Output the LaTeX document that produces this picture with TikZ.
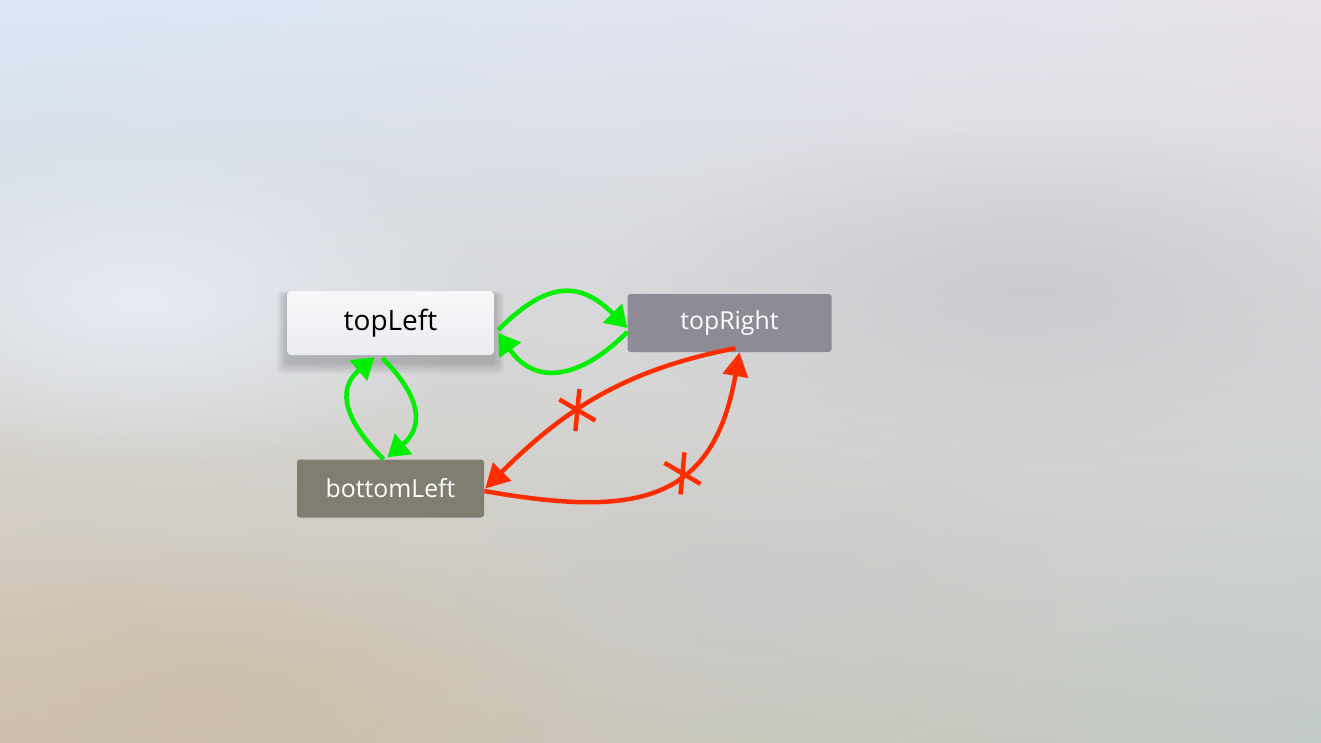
\documentclass[tikz,border=0pt]{standalone}
\usepackage{fontspec}
\setmainfont{Open Sans}
\usetikzlibrary{arrows.meta,decorations.markings,fadings,shadings}
\tikzfading[name=softblob, inner color=transparent!0, outer color=transparent!100]
\definecolor{bgUL}{HTML}{D9E7F7}
\definecolor{bgUR}{HTML}{E8E2E9}
\definecolor{bgLL}{HTML}{D0C2AE}
\definecolor{bgLR}{HTML}{C2CAC6}
\definecolor{blobgray}{HTML}{C8C7CC}
\definecolor{bloblight}{HTML}{E8EDF6}
\definecolor{blobtan}{HTML}{CDBEA8}
\definecolor{greenline}{HTML}{00EE00}
\definecolor{redline}{HTML}{FF2D00}
\definecolor{trfill}{HTML}{8D8B95}
\definecolor{blfill}{HTML}{7F7E71}
\definecolor{tltop}{HTML}{F8F8FA}
\definecolor{tlbot}{HTML}{EBECF0}
\tikzset{
  box/.style={rectangle, inner sep=0pt, minimum height=58pt, rounded corners=3pt},
  focusbox/.style={box, top color=tltop, bottom color=tlbot, minimum width=207pt, minimum height=64pt, rounded corners=4pt, text=black, font=\fontsize{28}{32}\selectfont},
  plainbox/.style={box, text=white, font=\fontsize{24.8}{29}\selectfont},
  glink/.style={draw=greenline, line width=4.5pt, -{Triangle[length=21pt,width=26pt]}, fill=none},
  rlink/.style={draw=redline, line width=4.5pt, -{Triangle[length=24pt,width=25pt]}, fill=none},
  crossmark/.style={postaction={decorate}, decoration={markings, mark=at position #1 with {
      \pgftransformresetnontranslations
      \draw[redline, line width=4.5pt, -] (-2pt,-21pt) -- (2pt,21pt);
      \draw[redline, line width=4.5pt, -] (-18pt,10.5pt) -- (18pt,-10.5pt);}}}
}
\begin{document}
\begin{tikzpicture}[x=1pt,y=-1pt]
\useasboundingbox (0,0) rectangle (1321,743);
\shade[upper left=bgUL, upper right=bgUR, lower left=bgLL, lower right=bgLR] (0,0) rectangle (1321,743);
\fill[blobgray, path fading=softblob, fill opacity=0.8] (1030,290) ellipse [x radius=420pt, y radius=170pt];
\fill[bloblight, path fading=softblob, fill opacity=0.9] (140,300) ellipse [x radius=360pt, y radius=170pt];
\fill[blobtan, path fading=softblob, fill opacity=0.8] (200,700) ellipse [x radius=420pt, y radius=160pt];
\fill[blobgray, path fading=softblob, fill opacity=0.5] (760,600) ellipse [x radius=300pt, y radius=150pt];
% soft shadow of the focused box
\foreach \i in {1,...,10}
  \fill[black, opacity=0.018, rounded corners=5pt] (287-\i,295-0.4*\i) rectangle (494+\i,362+1.2*\i);

\node[focusbox] (topLeft) at (390.5,323) {topLeft};
\node[plainbox, fill=trfill, minimum width=204pt] (topRight) at (729.5,323) {topRight};
\node[plainbox, fill=blfill, minimum width=187pt] (bottomLeft) at (390.5,488.5) {bottomLeft};

% green links
\draw[glink] ([xshift=4pt,yshift=-7pt]topLeft.east) to[out=45,in=135,looseness=1.35] ([yshift=-5pt]topRight.west);
\draw[glink] ([yshift=-9pt]topRight.west) to[out=-135,in=-55,looseness=1.3] ([xshift=4pt,yshift=-10pt]topLeft.east);
\draw[glink] ([xshift=-7pt]bottomLeft.north) to[out=135,in=-140,looseness=1.3] ([xshift=-16pt,yshift=-2pt]topLeft.south);
\draw[glink] ([xshift=-8pt,yshift=-3pt]topLeft.south) to[out=-45,in=40,looseness=1.3] ([xshift=-3pt,yshift=2pt]bottomLeft.north);

% red links
\draw[rlink, crossmark=0.585] ([xshift=6pt,yshift=4pt]topRight.south) to[out=191,in=45] ([xshift=1pt]bottomLeft.east);
\draw[rlink, crossmark=0.6] ([yshift=-2.5pt]bottomLeft.east) to[out=-10,in=-100,looseness=1.35] ([xshift=10pt]topRight.south);
\end{tikzpicture}
\end{document}
